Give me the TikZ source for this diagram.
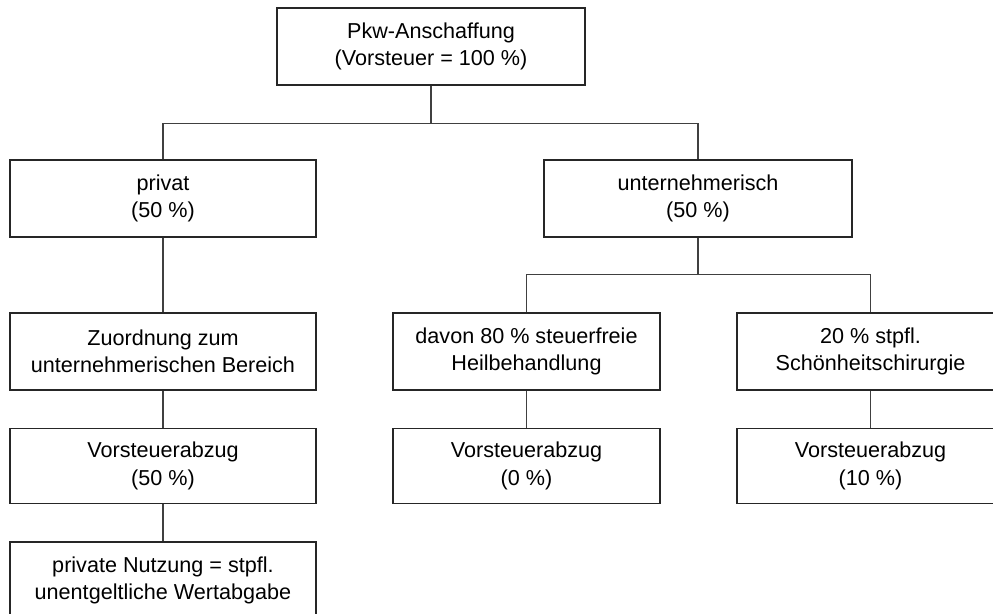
\documentclass[tikz,border=0pt]{standalone}
\usepackage{fontspec}
\setmainfont{Liberation Sans}
\tikzset{
  box/.style={draw=black!85,line width=0.55pt,align=center,inner sep=0pt,
    minimum height=38.5pt,minimum width=153pt,
    font=\fontsize{10.8}{13.6}\selectfont},
  smallbox/.style={box,minimum width=133.5pt},
  link/.style={draw=black!75,line width=0.55pt}
}
\begin{document}
\begin{tikzpicture}[x=0.5pt,y=-0.5pt]
\useasboundingbox (0,0) rectangle (993,614);
% top level
\node[box,minimum width=154pt] (anschaffung) at (431,46.5)
  {Pkw-Anschaffung\\(Vorsteuer = 100 \%)};
% second level
\node[box] (privat) at (163,198.5) {privat\\(50 \%)};
\node[box,minimum width=154pt] (untern) at (698,198.5)
  {unternehmerisch\\(50 \%)};
% left branch
\node[box] (zuordnung) at (163,351.5)
  {Zuordnung zum\\unternehmerischen Bereich};
\node[box,minimum height=37.5pt] (vstprivat) at (163,466)
  {Vorsteuerabzug\\(50 \%)};
\node[box] (nutzung) at (163,580.5)
  {private Nutzung = stpfl.\\unentgeltliche Wertabgabe};
% right branch
\node[smallbox] (heil) at (526.5,351.5)
  {davon 80 \% steuerfreie\\Heilbehandlung};
\node[smallbox] (schoen) at (870.5,351.5)
  {20 \% stpfl.\\Schönheitschirurgie};
\node[smallbox,minimum height=37.5pt] (vstheil) at (526.5,466)
  {Vorsteuerabzug\\(0 \%)};
\node[smallbox,minimum height=37.5pt] (vstschoen) at (870.5,466)
  {Vorsteuerabzug\\(10 \%)};
% connectors
\path[link] (anschaffung.south) -- ++(0,38) -| (privat.north);
\path[link] (anschaffung.south) -- ++(0,38) -| (untern.north);
\path[link] (privat.south) -- (zuordnung.north);
\path[link] (zuordnung.south) -- (vstprivat.north);
\path[link] (vstprivat.south) -- (nutzung.north);
\path[link] (untern.south) -- ++(0,37) -| (heil.north);
\path[link] (untern.south) -- ++(0,37) -| (schoen.north);
\path[link] (heil.south) -- (vstheil.north);
\path[link] (schoen.south) -- (vstschoen.north);
\end{tikzpicture}
\end{document}
